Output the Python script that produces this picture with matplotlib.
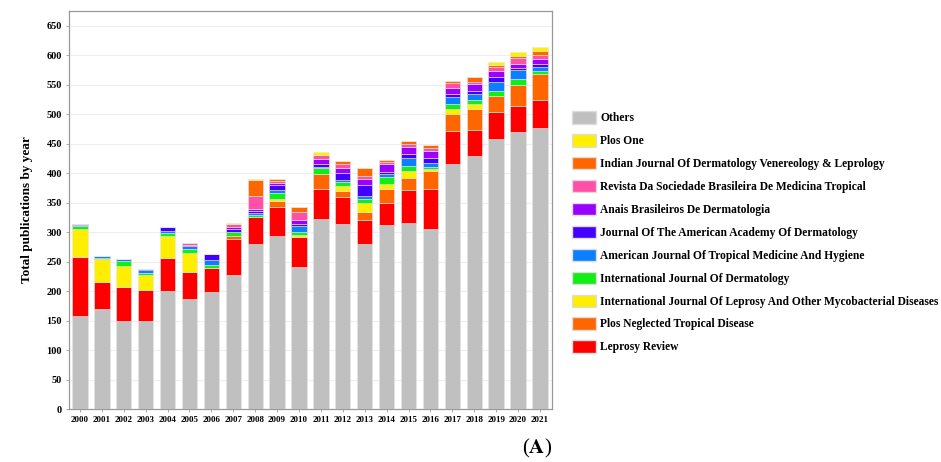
# stacked bars: publications per year by journal
import numpy as np
import matplotlib.pyplot as plt
from matplotlib.patches import Patch

plt.rcParams['font.family'] = ['Liberation Serif', 'DejaVu Serif']
plt.rcParams['mathtext.fontset'] = 'stix'

years = [str(y) for y in range(2000, 2022)]

others   = [158, 169, 150, 150, 200, 187, 199, 227, 280, 294, 241, 322, 314, 280, 312, 316, 305, 415, 429, 458, 470, 477]
leprosy  = [100, 47, 57, 52, 56, 46, 41, 61, 46, 49, 50, 52, 46, 41, 38, 56, 68, 57, 44, 46, 44, 47]
plos_ntd = [0, 0, 0, 0, 0, 0, 0, 6, 0, 10, 0, 25, 10, 14, 24, 20, 31, 29, 36, 27, 36, 45]
ij_lep   = [47, 38, 36, 25, 38, 31, 0, 0, 0, 4, 4, 0, 9, 15, 7, 11, 3, 8, 9, 0, 0, 0]
ij_derm  = [5, 3, 8, 3, 4, 7, 5, 6, 3, 10, 5, 9, 6, 7, 13, 10, 4, 9, 7, 8, 9, 4]
aj_trop  = [2, 3, 3, 5, 4, 5, 8, 0, 4, 4, 10, 3, 3, 5, 4, 13, 6, 12, 9, 16, 16, 8]
jaad     = [0, 0, 0, 3, 6, 0, 10, 5, 3, 9, 4, 5, 13, 18, 4, 7, 9, 5, 6, 9, 4, 4]
anais    = [1, 0, 0, 0, 0, 2, 0, 4, 3, 3, 7, 8, 8, 10, 13, 11, 11, 10, 12, 10, 7, 9]
revista  = [0, 0, 0, 0, 0, 4, 0, 4, 23, 3, 13, 7, 7, 6, 4, 6, 6, 8, 3, 6, 9, 6]
indian   = [0, 0, 0, 0, 0, 0, 0, 0, 26, 4, 8, 0, 4, 12, 4, 4, 4, 4, 8, 3, 3, 7]
plos_one = [0, 0, 0, 0, 0, 0, 0, 3, 2, 0, 0, 5, 0, 0, 0, 0, 0, 0, 0, 6, 7, 7]

# bottom to top
series = [
    ('Others', others, '#c0c0c0'),
    ('Leprosy Review', leprosy, '#ff0000'),
    ('Plos Neglected Tropical Disease', plos_ntd, '#ff6600'),
    ('International Journal Of Leprosy And Other Mycobacterial Diseases', ij_lep, '#ffee00'),
    ('International Journal Of Dermatology', ij_derm, '#11ee11'),
    ('American Journal Of Tropical Medicine And Hygiene', aj_trop, '#0a7fff'),
    ('Journal Of The American Academy Of Dermatology', jaad, '#4400ff'),
    ('Anais Brasileiros De Dermatologia', anais, '#9900ff'),
    ('Revista Da Sociedade Brasileira De Medicina Tropical', revista, '#ff4fa7'),
    ('Indian Journal Of Dermatology Venereology & Leprology', indian, '#ff6600'),
    ('Plos One', plos_one, '#fff000'),
]

fig = plt.figure(figsize=(9.41, 4.62), dpi=100)
ax = fig.add_axes([0.0733, 0.1147, 0.5133, 0.8613])

x = np.arange(len(years))
bottom = np.zeros(len(years))
handles = []
for name, vals, col in series:
    vals = np.array(vals, dtype=float)
    ax.bar(x, vals, 0.7, bottom=bottom, color=col, edgecolor='#e6e6e6', linewidth=0.4, zorder=3)
    bottom += vals
    handles.append(Patch(facecolor=col, edgecolor='#dddddd', label=name))

ax.set_xlim(-0.5, 21.55)
ax.set_ylim(0, 675)
ax.set_yticks(range(0, 651, 50))
ax.set_xticks(x)
ax.set_xticklabels(years, fontsize=6.5, fontweight='bold')
for t in ax.get_yticklabels():
    t.set_fontsize(7.5)
    t.set_fontweight('bold')
ax.tick_params(axis='both', length=2, width=0.5, color='#888888', pad=3)
ax.grid(axis='y', color='#eeeeee', linewidth=0.8, zorder=0)
for s in ax.spines.values():
    s.set_color('#999999')
    s.set_linewidth(0.9)
ax.set_ylabel('Total publications by year', fontsize=9.5, fontweight='bold', labelpad=10)

leg_handles = [handles[0]] + handles[1:][::-1]
fig.legend(handles=leg_handles, loc='center left', bbox_to_anchor=(0.597, 0.497), frameon=False,
           prop={'weight': 'bold', 'size': 8.3}, handlelength=2.1, handleheight=1.25,
           labelspacing=0.86, handletextpad=0.35)

fig.text(0.571, 0.005, r'($\mathbf{A}$)', fontsize=15, ha='center', va='bottom')

fig.savefig('out.png', dpi=100)
